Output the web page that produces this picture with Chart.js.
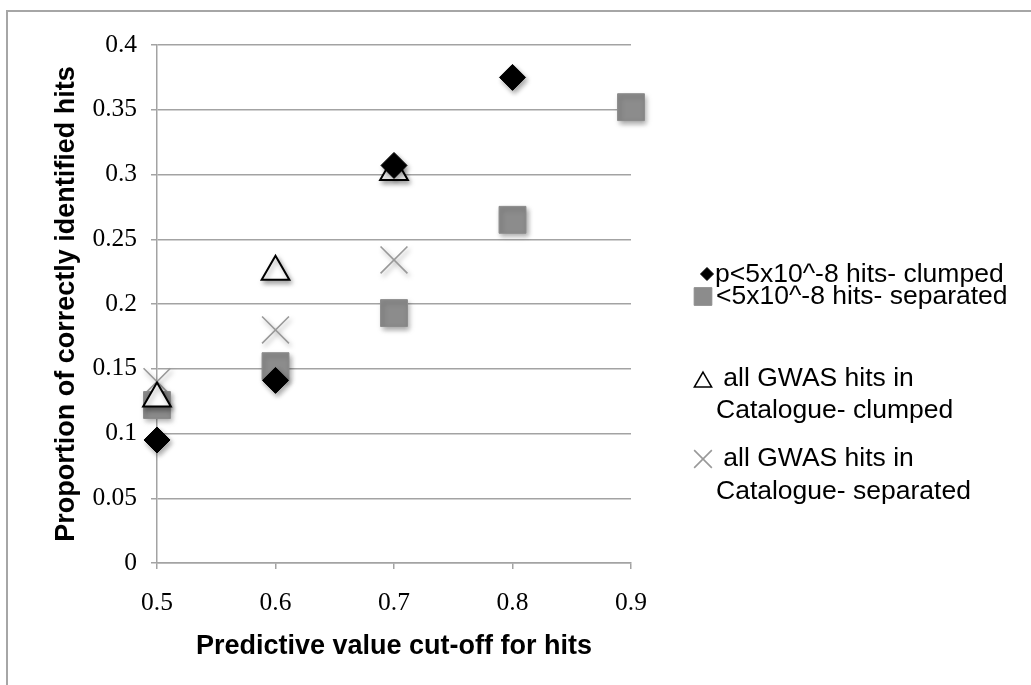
<!DOCTYPE html>
<html>
<head>
<meta charset="utf-8">
<script src="https://cdn.jsdelivr.net/npm/chart.js@4/dist/chart.umd.min.js"></script>
<style>
  html, body { margin: 0; padding: 0; background: #fff; }
  #wrap { width: 1031px; height: 685px; }
</style>
</head>
<body>
<div id="wrap"><canvas id="scatter" width="1031" height="685"></canvas></div>
<script>
// cut-off values on the x axis
xCuts = [0.5, 0.6, 0.7, 0.8, 0.9]

// proportion of correctly identified hits
sigClumped = [0.095, 0.141, 0.307, 0.375, null]
sigSeparated = [0.122, 0.152, 0.193, 0.265, 0.352]
allClumped = [0.127, 0.225, 0.302, null, null]
allSeparated = [0.140, 0.180, 0.234, null, null]

legendLines = [
  ['p<5x10^-8 hits- clumped'],
  ['<5x10^-8 hits- separated'],
  [' all GWAS hits in', 'Catalogue- clumped'],
  [' all GWAS hits in', 'Catalogue- separated']
]

function pts(vals) {
  out = []
  vals.forEach((v, i) => {
    if (v !== null) out.push({x: xCuts[i], y: v})
  })
  return out
}

gridCol = '#a3a3a3'
serif = '"Liberation Serif", "Times New Roman", serif'
sans = '"Liberation Sans", Arial, sans-serif'

datasets = [
  {
    label: legendLines[0].join(' '),
    data: pts(sigClumped),
    pointStyle: 'rectRot', pointRadius: 13,
    backgroundColor: '#000', borderColor: '#000', borderWidth: 1,
    order: 0, clip: false
  },
  {
    label: legendLines[1].join(' '),
    data: pts(sigSeparated),
    pointStyle: 'rect', pointRadius: 19,
    backgroundColor: '#8c8c8c', borderColor: '#8c8c8c', borderWidth: 1,
    order: 2, clip: false
  },
  {
    label: legendLines[2].join(' '),
    data: pts(allClumped),
    pointStyle: 'triangle', pointRadius: 16,
    backgroundColor: '#fff', borderColor: '#000', borderWidth: 2,
    order: 1, clip: false
  },
  {
    label: legendLines[3].join(' '),
    data: pts(allSeparated),
    pointStyle: 'crossRot', pointRadius: 19,
    backgroundColor: '#999', borderColor: '#999', borderWidth: 1.6,
    order: 3, clip: false
  }
]

// soft drop shadow like the office chart markers
shadowPlugin = {
  id: 'shadow',
  beforeDatasetsDraw(chart) {
    ctx = chart.ctx
    ctx.save()
    ctx.shadowColor = 'rgba(0,0,0,0.35)'
    ctx.shadowBlur = 5
    ctx.shadowOffsetX = 2
    ctx.shadowOffsetY = 3
  },
  afterDatasetsDraw(chart) {
    chart.ctx.restore()
  }
}

// outer frame + legend on the right
framePlugin = {
  id: 'frame',
  afterDraw(chart) {
    ctx = chart.ctx
    ctx.save()
    ctx.strokeStyle = '#a6a6a6'
    ctx.lineWidth = 2
    ctx.beginPath()
    ctx.moveTo(7, 685)
    ctx.lineTo(7, 11)
    ctx.lineTo(1031, 11)
    ctx.stroke()

    rows = [
      {mx: 707, my: 274, tx: [715], ty: [275]},
      {mx: 703, my: 296.5, tx: [716], ty: [297]},
      {mx: 703, my: 382, tx: [716, 716], ty: [379, 411]},
      {mx: 703, my: 459, tx: [716, 716], ty: [459, 492]}
    ]
    legendR = [6.5, 12.5, 10, 12.5]
    ctx.font = '26.5px ' + sans
    ctx.textBaseline = 'middle'
    rows.forEach((r, i) => {
      ds = chart.data.datasets[i]
      ctx.fillStyle = ds.backgroundColor
      ctx.strokeStyle = ds.borderColor
      ctx.lineWidth = i == 2 ? 1.5 : ds.borderWidth
      Chart.helpers.drawPoint(ctx, {pointStyle: ds.pointStyle, radius: legendR[i], rotation: 0, borderWidth: ctx.lineWidth}, r.mx, r.my)
      ctx.fillStyle = '#000'
      legendLines[i].forEach((t, j) => ctx.fillText(t, r.tx[j], r.ty[j]))
    })
    ctx.restore()
  }
}

config = {
  type: 'scatter',
  data: {datasets: datasets},
  options: {
    responsive: false,
    animation: false,
    layout: {padding: {left: 0, right: 400, top: 45, bottom: 0}},
    plugins: {legend: {display: false}, tooltip: {enabled: false}},
    scales: {
      x: {
        type: 'linear', min: 0.5, max: 0.9,
        afterFit(s) { s.height = 685 - 563 },
        border: {color: gridCol, width: 1.5},
        grid: {drawOnChartArea: false, drawTicks: true, tickLength: 6, color: gridCol, lineWidth: 1.5},
        ticks: {stepSize: 0.1, padding: 19, color: '#000', font: {family: serif, size: 25.5},
          callback: v => String(Number(v.toFixed(2)))},
        title: {display: true, text: 'Predictive value cut-off for hits', color: '#000',
          padding: {bottom: 22}, font: {family: sans, size: 27, weight: 'bold'}}
      },
      y: {
        min: 0, max: 0.4,
        afterFit(s) { s.width = 157 },
        border: {color: gridCol, width: 1.5},
        grid: {color: gridCol, lineWidth: 1.5, tickLength: 6},
        ticks: {stepSize: 0.05, padding: 14, color: '#000', font: {family: serif, size: 25.5},
          callback: v => String(Number(v.toFixed(2)))},
        title: {display: true, text: 'Proportion of correctly identified hits', color: '#000',
          padding: {top: 50}, font: {family: sans, size: 27, weight: 'bold'}}
      }
    }
  },
  plugins: [shadowPlugin, framePlugin]
}

var myChart = new Chart(document.getElementById('scatter'), config)
</script>
</body>
</html>
